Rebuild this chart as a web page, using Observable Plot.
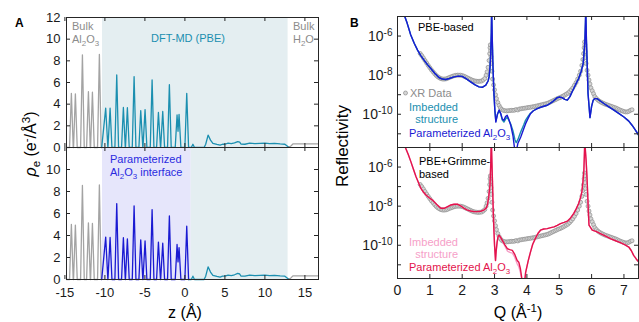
<!DOCTYPE html>
<html><head><meta charset="utf-8">
<script src="https://cdn.jsdelivr.net/npm/d3@7"></script>
<script src="https://cdn.jsdelivr.net/npm/@observablehq/plot@0.6"></script>
<style>
body{margin:0;background:#fff;}
#wrap{position:relative;width:639px;height:322px;overflow:hidden;background:#fff}
</style></head><body><div id="wrap"></div>
<script>
// ---------------- Panel A data (electron density profiles) ----------------
const zDomain = [-14.8, 16.7];
const zTicks = [-15, -10, -5, 0, 5, 10, 15];
const rhoTicksTop = [0, 2, 4, 6, 8, 10, 12];
const rhoTicksBottom = [0, 2, 4, 6, 8, 10];
const rhoDomain = [0, 12];

const pbeRegion = [-10.3, 12.9];     // DFT-MD (PBE) shaded region
const paramRegion = [-10.3, 0.8];    // Parameterized Al2O3 region
const waterRegion = [0.8, 12.9];     // DFT-MD water region (bottom)

const bulkZ   = [-14.8,-14.42,-14.19,-13.96,-13.92,-13.69,-13.46,-13.04,-12.81,-12.58,-12.29,-12.06,-11.83,-11.79,-11.56,-11.33,-10.92,-10.69,-10.46];
const bulkRho = [0,0,5.0,0,0,4.95,0,0,8.55,0,0,5.15,0,0,5.1,0,0,8.6,0];

const alZ = [-10.4,-9.9,-9.63,-9.62,-9.35,-9.12,-8.75,-8.52,-8.29,-7.92,
             -7.69,-7.45,-7.43,-7.19,-6.96,-6.58,-6.35,-6.12,-5.75,-5.52,
             -5.26,-5.24,-4.98,-4.75,-4.33,-4.1,-3.87,-3.54,-3.31,-3.05,
             -3.03,-2.77,-2.54,-2.17,-1.94,-1.71,-1.21,-0.98,-0.86,-0.73,
             -0.5,0.0,0.23,0.46];
const pbeRho = [0,3.63,0,0,3.63,0,0,6.7,0,0,
                3.7,0,0,3.67,0,0,6.55,0,0,3.41,
                0,0,3.5,0,0,6.24,0,0,3.23,0,
                0,3.33,0,0,5.8,0,0,3.0,1.5,3.05,
                0,0,5.0,0];
const paramRho = [0,3.85,0,0,3.82,0,0,6.9,0,0,
                  3.8,0,0,3.7,0,0,6.7,0,0,3.6,
                  0,0,3.5,0,0,6.36,0,0,3.4,0,
                  0,3.3,0,0,5.78,0,0,3.18,1.6,2.9,
                  0,0,4.85,0];

const waterZ   = [0.46,0.8,1.0,1.2,2.4,2.6,2.9,3.2,3.5,4.0,
                  4.4,4.7,5.0,5.4,5.8,6.2,6.6,6.85,7.0,7.5,
                  8.1,8.75,9.4,10.0,10.6,11.2,11.9,12.5,12.9];
const waterRho = [0,0,0.3,0,0,0.3,1.15,0.68,0.37,0.28,
                  0.22,0.3,0.3,0.4,0.35,0.43,0.55,0.5,0.32,0.3,
                  0.4,0.35,0.38,0.4,0.36,0.38,0.33,0.3,0.06];

const bulkWaterZ   = [12.9, 13.2, 13.5, 16.7];
const bulkWaterRho = [0.06, 0.1, 0.33, 0.33];

// ---------------- Panel B data (reflectivity, log10 R) ----------------
const qDomain = [0, 7.45];
const qTicks = [0, 1, 2, 3, 4, 5, 6, 7];
const logRDomain = [-11.7, -5];
const logRDecades = [-11, -10, -9, -8, -7, -6];
const logRLabels = [-10, -8, -6];

const xrQ = [0.70,0.75,0.80,0.85,0.90,0.95,1.00,1.05,1.10,1.15,
  1.20,1.25,1.30,1.35,1.40,1.45,1.50,1.55,1.60,1.65,
  1.70,1.75,1.80,1.85,1.90,1.95,2.00,2.05,2.10,2.15,
  2.20,2.25,2.30,2.35,2.40,2.45,2.50,2.55,2.60,2.65,
  2.70,2.74,2.77,2.80,2.83,2.85,2.86,2.87,2.88,2.89,
  2.90,2.92,2.94,2.97,3.00,3.03,3.06,3.10,3.14,3.18,
  3.22,3.27,3.32,3.37,3.42,3.47,3.52,3.57,3.62,3.67,
  3.72,3.77,3.82,3.87,3.92,3.97,4.02,4.07,4.12,4.17,
  4.22,4.27,4.32,4.37,4.42,4.47,4.52,4.57,4.62,4.67,
  4.72,4.77,4.82,4.87,4.92,4.97,5.02,5.07,5.12,5.17,
  5.22,5.27,5.32,5.37,5.42,5.47,5.52,5.57,5.62,5.66,
  5.70,5.73,5.75,5.77,5.78,5.79,5.80,5.81,5.83,5.86,
  5.89,5.92,5.95,5.98,6.02,6.06,6.10,6.15,6.20,6.25,
  6.30,6.35,6.40,6.45,6.50,6.55,6.60,6.65,6.70,6.75,
  6.80,6.85,6.90,6.95,7.00,7.05,7.10,7.15,7.20,7.25];
const xrLogR = [-6.89,-7.00,-7.12,-7.25,-7.38,-7.50,-7.62,-7.73,-7.83,-7.93,
  -8.02,-8.09,-8.14,-8.18,-8.20,-8.20,-8.19,-8.16,-8.12,-8.09,
  -8.06,-8.03,-8.01,-8.00,-8.00,-8.00,-8.02,-8.05,-8.09,-8.13,
  -8.17,-8.21,-8.25,-8.28,-8.30,-8.31,-8.32,-8.31,-8.30,-8.25,
  -8.17,-8.00,-7.83,-7.60,-7.25,-6.90,-6.60,-6.45,-6.75,-7.05,
  -7.40,-7.80,-8.20,-8.50,-8.75,-9.00,-9.20,-9.40,-9.55,-9.67,
  -9.75,-9.80,-9.82,-9.83,-9.82,-9.81,-9.80,-9.80,-9.79,-9.76,
  -9.78,-9.73,-9.72,-9.70,-9.69,-9.68,-9.66,-9.65,-9.64,-9.62,
  -9.61,-9.59,-9.57,-9.55,-9.53,-9.51,-9.49,-9.47,-9.45,-9.42,
  -9.38,-9.34,-9.30,-9.26,-9.22,-9.18,-9.15,-9.11,-9.07,-9.02,
  -8.97,-8.92,-8.84,-8.75,-8.65,-8.52,-8.38,-8.20,-8.00,-7.80,
  -7.50,-7.20,-6.90,-6.60,-6.30,-6.45,-6.80,-7.10,-7.40,-7.75,
  -8.00,-8.25,-8.45,-8.65,-8.80,-8.95,-9.10,-9.20,-9.28,-9.34,
  -9.39,-9.43,-9.47,-9.50,-9.53,-9.56,-9.59,-9.62,-9.65,-9.68,
  -9.72,-9.76,-9.80,-9.83,-9.86,-9.88,-9.88,-9.85,-9.80,-9.77];

const pbeQ = [0.15,0.225,0.30,0.41,0.52,0.62,0.72,0.82,0.92,1.03,
  1.15,1.28,1.38,1.49,1.60,1.75,1.88,2.00,2.12,2.26,
  2.40,2.52,2.62,2.73,2.80,2.83,2.86,2.88,2.90,2.91,
  2.93,2.95,2.98,3.01,3.04,3.09,3.14,3.19,3.24,3.29,
  3.34,3.39,3.44,3.50,3.57,3.63,3.67,3.72,3.81,3.90,
  3.96,4.04,4.11,4.20,4.32,4.45,4.63,4.80,4.94,5.02,
  5.09,5.17,5.25,5.33,5.40,5.50,5.60,5.68,5.74,5.79,
  5.81,5.82,5.84,5.86,5.89,5.95,6.00,6.05,6.10,6.17,
  6.27,6.38,6.50,6.69,6.85,7.00,7.15,7.25,7.35,7.46];
const pbeParamLogR = [-4.6,-5.0,-5.35,-5.95,-6.38,-6.72,-7.0,-7.23,-7.45,-7.66,
  -7.9,-8.12,-8.2,-8.22,-8.17,-8.09,-8.05,-8.06,-8.18,-8.34,
  -8.5,-8.6,-8.62,-8.51,-8.3,-8.09,-7.6,-7.0,-5.8,-4.6,
  -6.2,-7.5,-8.9,-9.8,-10.4,-10.0,-9.78,-9.95,-10.25,-10.31,
  -10.12,-10.05,-10.25,-10.56,-11.1,-11.9,-11.9,-11.5,-11.16,-10.75,
  -10.48,-10.2,-9.97,-9.82,-9.71,-9.63,-9.54,-9.35,-9.15,-9.12,
  -9.15,-9.24,-9.28,-9.1,-8.85,-8.5,-8.17,-7.8,-7.4,-6.38,
  -5.3,-4.6,-6.2,-7.23,-8.94,-10.17,-9.6,-9.28,-9.2,-9.2,
  -9.32,-9.45,-9.58,-9.79,-9.97,-10.14,-10.35,-10.56,-10.8,-11.08];
const pbeImbLogR = [-4.6,-5.0,-5.35,-5.95,-6.38,-6.72,-7.0,-7.23,-7.45,-7.66,
  -7.9,-8.12,-8.2,-8.22,-8.17,-8.09,-8.05,-8.06,-8.18,-8.34,
  -8.5,-8.6,-8.62,-8.51,-8.3,-8.09,-7.6,-7.0,-5.8,-4.6,
  -6.2,-7.5,-8.9,-9.8,-10.35,-10.0,-9.82,-9.98,-10.3,-10.4,
  -10.25,-10.15,-10.3,-10.5,-10.85,-11.3,-11.45,-11.3,-10.9,-10.55,
  -10.3,-10.1,-9.95,-9.82,-9.71,-9.63,-9.54,-9.35,-9.15,-9.12,
  -9.15,-9.24,-9.28,-9.1,-8.85,-8.5,-8.17,-7.8,-7.4,-6.38,
  -5.3,-4.6,-6.2,-7.23,-8.94,-10.17,-9.6,-9.28,-9.2,-9.2,
  -9.32,-9.45,-9.58,-9.79,-9.97,-10.14,-10.35,-10.56,-10.8,-11.08];

const grimmeQ = [0.15,0.25,0.33,0.41,0.49,0.57,0.65,0.72,0.80,0.88,
  0.98,1.08,1.16,1.23,1.34,1.44,1.55,1.65,1.75,1.85,
  1.95,2.06,2.16,2.26,2.37,2.47,2.57,2.67,2.74,2.78,
  2.82,2.86,2.88,2.90,2.92,2.94,2.96,2.98,3.00,3.03,
  3.05,3.08,3.11,3.14,3.19,3.24,3.32,3.40,3.47,3.55,
  3.62,3.70,3.75,3.80,3.86,3.93,3.96,4.04,4.11,4.18,
  4.26,4.34,4.42,4.52,4.63,4.74,4.84,4.94,5.04,5.15,
  5.25,5.35,5.45,5.52,5.60,5.66,5.70,5.73,5.76,5.78,
  5.79,5.81,5.83,5.86,5.88,5.90,5.92,6.02,6.15,6.27,
  6.42,6.58,6.74,6.89,7.02,7.15,7.23,7.30,7.38,7.46];
const grimmeParamLogR = [-4.6,-5.02,-5.35,-5.71,-6.1,-6.48,-6.8,-7.08,-7.28,-7.43,
  -7.57,-7.69,-7.82,-7.94,-8.11,-8.11,-8.02,-7.94,-7.9,-7.9,
  -7.98,-8.11,-8.2,-8.25,-8.28,-8.28,-8.26,-8.2,-8.1,-7.94,
  -7.5,-6.91,-6.0,-4.6,-5.8,-7.0,-8.29,-9.2,-10.0,-10.78,
  -10.3,-9.83,-9.55,-9.49,-9.6,-9.75,-9.98,-10.18,-10.22,-10.26,
  -10.45,-10.78,-10.87,-11.2,-11.9,-11.9,-11.4,-10.8,-10.35,-9.95,
  -9.66,-9.4,-9.23,-9.17,-9.15,-9.1,-9.06,-8.98,-8.89,-8.83,
  -8.77,-8.6,-8.37,-8.15,-7.86,-7.55,-7.26,-6.8,-6.23,-5.2,
  -4.6,-5.2,-5.66,-6.6,-7.43,-8.3,-8.97,-9.23,-9.3,-9.4,
  -9.52,-9.66,-9.77,-9.87,-9.97,-10.09,-10.28,-10.52,-10.7,-10.87];
const grimmeImbLogR = [-4.6,-5.02,-5.35,-5.71,-6.1,-6.48,-6.8,-7.08,-7.28,-7.43,
  -7.57,-7.69,-7.82,-7.94,-8.11,-8.11,-8.02,-7.94,-7.9,-7.9,
  -7.98,-8.11,-8.2,-8.25,-8.28,-8.28,-8.26,-8.2,-8.1,-7.94,
  -7.5,-6.91,-6.0,-4.6,-5.8,-7.0,-8.29,-9.2,-10.0,-10.78,
  -10.3,-9.83,-9.55,-9.49,-9.6,-9.78,-10.05,-10.3,-10.36,-10.4,
  -10.6,-10.95,-11.1,-11.4,-11.9,-11.9,-11.4,-10.8,-10.35,-9.95,
  -9.66,-9.4,-9.23,-9.17,-9.15,-9.1,-9.06,-8.98,-8.89,-8.83,
  -8.77,-8.6,-8.37,-8.15,-7.86,-7.55,-7.26,-6.8,-6.23,-5.2,
  -4.6,-5.2,-5.66,-6.6,-7.43,-8.3,-8.97,-9.23,-9.3,-9.4,
  -9.52,-9.66,-9.77,-9.87,-9.97,-10.09,-10.28,-10.52,-10.7,-10.87];

// ---------------- styles ----------------
const GRAY = "#a3a3a3", TEAL = "#1b8fb0", BLUE = "#1a1ad2", RED = "#e3134c", PINK = "#f6a0c8";
const SHADE_BLUE = "#e4eef1", SHADE_LAV = "#e6e6fb";
const AXIS = "#262626";
const DOT_FILL = "#d6d6d6", DOT_STROKE = "#8e8e8e";
const FONT = 'Arial, "Liberation Sans", Helvetica, sans-serif';

// ---------------- helpers ----------------
const wrap = document.getElementById("wrap");
const toRows = (xs, ys, kx, ky, f = v => v) => xs.map((x, i) => ({[kx]: x, [ky]: f(ys[i])}));
const pow10 = v => Math.pow(10, v);

function place(svg, left, top) {
  svg.style.position = "absolute";
  svg.style.left = left + "px";
  svg.style.top = top + "px";
  wrap.appendChild(svg);
  // superscript formatting for "10^-6" style labels
  svg.querySelectorAll("text").forEach(t => {
    const s = t.textContent;
    if (!s.includes("^")) return;
    const [b, e] = s.split("^");
    t.textContent = "";
    const ns = "http://www.w3.org/2000/svg";
    const a = document.createElementNS(ns, "tspan"); a.textContent = b; t.appendChild(a);
    const c = document.createElementNS(ns, "tspan"); c.textContent = e;
    c.setAttribute("dy", "-0.5em"); c.setAttribute("font-size", "0.72em"); t.appendChild(c);
  });
  return svg;
}

function inwardTicks(xTicks, yTicks, innerW, innerH, yMap = d => d) {
  return [
    Plot.tickX(xTicks, {x: d => d, insetBottom: innerH - 4, stroke: AXIS}),
    Plot.tickX(xTicks, {x: d => d, insetTop: innerH - 4, stroke: AXIS}),
    Plot.tickY(yTicks, {y: yMap, insetRight: innerW - 4, stroke: AXIS}),
    Plot.tickY(yTicks, {y: yMap, insetLeft: innerW - 4, stroke: AXIS})
  ];
}

// ---------------- Panel A ----------------
const aInnerW = 252;
const bulkRows = toRows(bulkZ, bulkRho, "z", "rho");
const bulkWaterRows = toRows(bulkWaterZ, bulkWaterRho, "z", "rho");
const pbeRows = toRows(alZ.concat(waterZ.slice(1)), pbeRho.concat(waterRho.slice(1)), "z", "rho");
const paramRows = toRows(alZ, paramRho, "z", "rho");
const waterRows = toRows(waterZ, waterRho, "z", "rho");

function aPlot({innerH, mB, regions, lines, yTicks, showX}) {
  return Plot.plot({
    width: 40 + aInnerW + 8, height: 5 + innerH + mB,
    marginLeft: 40, marginRight: 8, marginTop: 5, marginBottom: mB,
    style: {fontFamily: FONT, fontSize: "13px", color: "#1a1a1a", background: "transparent", overflow: "visible"},
    x: showX ? {domain: zDomain, ticks: zTicks, tickSize: 0, tickPadding: 8, tickFormat: d => String(d), label: null}
             : {domain: zDomain, axis: null},
    y: {domain: rhoDomain, ticks: yTicks, tickSize: 0, tickPadding: 6, label: null},
    marks: [
      ...regions.map(([r, fill]) => Plot.rect([r], {x1: d => d[0], x2: d => d[1], fill})),
      ...lines.map(([rows, stroke]) => Plot.line(rows, {x: "z", y: "rho", stroke, strokeWidth: 1.3})),
      Plot.frame({stroke: AXIS}),
      ...inwardTicks(zTicks, yTicks, aInnerW, innerH)
    ]
  });
}

place(aPlot({
  innerH: 130, mB: 5, showX: false, yTicks: rhoTicksTop,
  regions: [[pbeRegion, SHADE_BLUE]],
  lines: [[bulkRows, GRAY], [bulkWaterRows, GRAY], [pbeRows, TEAL]]
}), 26, 12);

place(aPlot({
  innerH: 132, mB: 30, showX: true, yTicks: rhoTicksBottom,
  regions: [[paramRegion, SHADE_LAV], [waterRegion, SHADE_BLUE]],
  lines: [[bulkRows, GRAY], [bulkWaterRows, GRAY], [waterRows, TEAL], [paramRows, BLUE]]
}), 26, 142);

// ---------------- Panel B ----------------
const bInnerW = 241;
const xrRows = toRows(xrQ, xrLogR, "q", "r", pow10);
const pbeParamRows = toRows(pbeQ, pbeParamLogR, "q", "r", pow10);
const pbeImbRows = toRows(pbeQ, pbeImbLogR, "q", "r", pow10);
const grParamRows = toRows(grimmeQ, grimmeParamLogR, "q", "r", pow10);
const grImbRows = toRows(grimmeQ, grimmeImbLogR, "q", "r", pow10);

function bPlot({innerH, mB, showX, lines}) {
  return Plot.plot({
    width: 48 + bInnerW + 1, height: 5 + innerH + mB,
    marginLeft: 48, marginRight: 1, marginTop: 5, marginBottom: mB,
    style: {fontFamily: FONT, fontSize: "14px", color: "#1a1a1a", background: "transparent", overflow: "visible"},
    x: showX ? {domain: qDomain, ticks: qTicks, tickSize: 0, tickPadding: 7, label: null}
             : {domain: qDomain, axis: null},
    y: {type: "log", domain: logRDomain.map(pow10), ticks: logRLabels.map(pow10), tickSize: 0, tickPadding: 5,
        tickFormat: d => "10^" + Math.round(Math.log10(d)), label: null},
    marks: [
      Plot.dot(xrRows, {x: "q", y: "r", r: 2, fill: DOT_FILL, stroke: DOT_STROKE, strokeWidth: 0.7, clip: true}),
      ...lines.map(([rows, stroke]) => Plot.line(rows, {x: "q", y: "r", stroke, strokeWidth: 1.4, clip: true})),
      Plot.frame({stroke: AXIS}),
      ...inwardTicks(qTicks, logRDecades, bInnerW, innerH, d => pow10(d))
    ]
  });
}

place(bPlot({innerH: 131, mB: 5, showX: false, lines: [[pbeImbRows, TEAL], [pbeParamRows, BLUE]]}), 349, 11);
place(bPlot({innerH: 131, mB: 30, showX: true, lines: [[grImbRows, PINK], [grParamRows, RED]]}), 349, 142);

// ---------------- Annotations overlay ----------------
const ov = d3.select(wrap).append("svg")
  .attr("width", 639).attr("height", 322)
  .style("position", "absolute").style("left", "0px").style("top", "0px")
  .style("font-family", FONT).style("pointer-events", "none");

function label(x, y, parts, {size = 11, color = "#000", anchor = "start", weight = null, rotate = false} = {}) {
  const t = ov.append("text").attr("x", x).attr("y", y).attr("fill", color)
    .attr("font-size", size).attr("text-anchor", anchor);
  if (weight) t.attr("font-weight", weight);
  if (rotate) t.attr("transform", `rotate(-90 ${x} ${y})`);
  let shift = 0;
  parts.forEach(p => {
    const [s, k, st] = Array.isArray(p) ? p : [p, null, null];
    const target = k === "sub" ? 0.28 * size : k === "sup" ? -0.4 * size : 0;
    const ts = t.append("tspan").text(s);
    if (target - shift) ts.attr("dy", target - shift);
    if (k) ts.attr("font-size", size * 0.72);
    if (st === "i") ts.attr("font-style", "italic");
    shift = target;
  });
  return t;
}

label(15, 27, ["A"], {size: 12, weight: "bold"});
label(350, 27, ["B"], {size: 12, weight: "bold"});

// panel A annotations
label(72, 30, ["Bulk"], {color: "#8c8c8c"});
label(72, 43, ["Al", ["2", "sub"], "O", ["3", "sub"]], {color: "#8c8c8c"});
label(151, 42, ["DFT-MD (PBE)"], {color: TEAL});
label(293, 30, ["Bulk"], {color: "#8c8c8c"});
label(293, 43, ["H", ["2", "sub"], "O"], {color: "#8c8c8c"});
label(110, 163, ["Parameterized"], {color: "#2a2ae0"});
label(110, 176, ["Al", ["2", "sub"], "O", ["3", "sub"], " interface"], {color: "#2a2ae0"});
label(36, 144, [["ρ", null, "i"], ["e", "sub"], " (e", ["-", "sup"], "/Å", ["3", "sup"], ")"], {size: 16, anchor: "middle", rotate: true});
label(185, 318, ["z (Å)"], {size: 16, anchor: "middle"});

// panel B annotations
label(418, 31, ["PBE-based"]);
ov.append("circle").attr("cx", 405.5).attr("cy", 93).attr("r", 2).attr("fill", DOT_FILL).attr("stroke", DOT_STROKE).attr("stroke-width", 0.7);
label(410, 97, ["XR Data"], {color: "#8c8c8c"});
label(458, 111, ["Imbedded"], {color: TEAL, anchor: "end"});
label(458, 123, ["structure"], {color: TEAL, anchor: "end"});
label(409, 137, ["Parameterized Al", ["2", "sub"], "O", ["3", "sub"]], {color: BLUE});
label(419, 165, ["PBE+Grimme-"]);
label(419, 178, ["based"]);
label(458, 246, ["Imbedded"], {color: PINK, anchor: "end"});
label(458, 258, ["structure"], {color: PINK, anchor: "end"});
label(409, 271, ["Parameterized Al", ["2", "sub"], "O", ["3", "sub"]], {color: RED});
label(348, 146, ["Reflectivity"], {size: 17, anchor: "middle", rotate: true});
label(518, 318, ["Q (Å", ["-1", "sup"], ")"], {size: 16, anchor: "middle"});
</script></body></html>
